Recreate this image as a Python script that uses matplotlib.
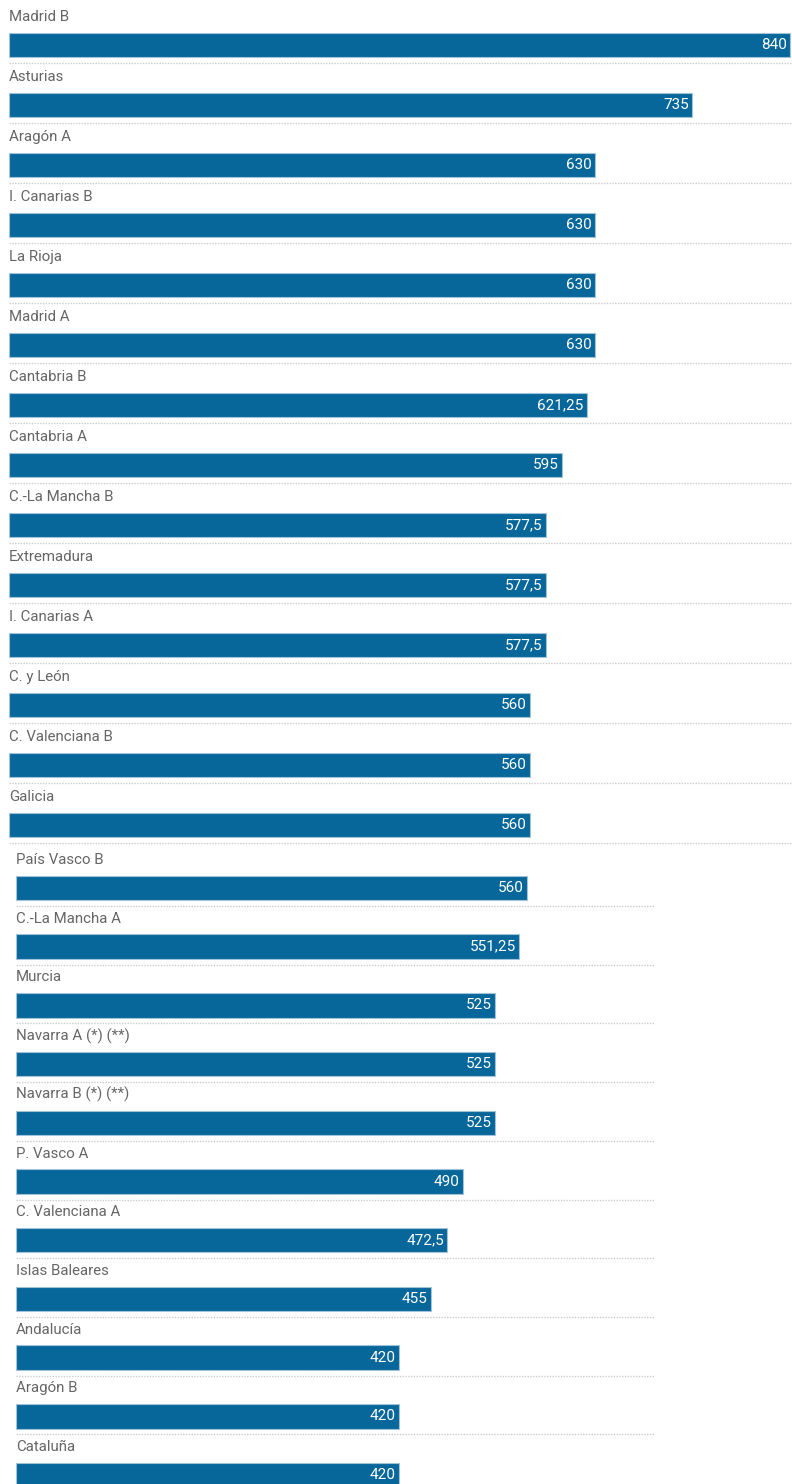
import matplotlib
matplotlib.use("Agg")
import matplotlib.pyplot as plt

# comunidades, two blocks as in the original graphic
top_names = ["Madrid B", "Asturias", "Aragón A", "I. Canarias B", "La Rioja",
             "Madrid A", "Cantabria B", "Cantabria A", "C.-La Mancha B",
             "Extremadura", "I. Canarias A", "C. y León", "C. Valenciana B",
             "Galicia"]
top_values = [840, 735, 630, 630, 630, 630, 621.25, 595, 577.5, 577.5, 577.5,
              560, 560, 560]

bottom_names = ["País Vasco B", "C.-La Mancha A", "Murcia", "Navarra A (*) (**)",
                "Navarra B (*) (**)", "P. Vasco A", "C. Valenciana A",
                "Islas Baleares", "Andalucía", "Aragón B", "Cataluña"]
bottom_values = [560, 551.25, 525, 525, 525, 490, 472.5, 455, 420, 420, 420]

W, H = 792, 1484
BAR = "#07679a"
EDGE = "#9fc3da"
TXT = "#666666"
GRID = "#cccccc"
FONT = ["Roboto", "DejaVu Sans"]


def fmt(v):
    s = ("%g" % v)
    return s.replace(".", ",")


def block(fig, names, values, x0, x1, xmax, yc0, pitch, ytop, ybot):
    # x0,x1 pixel span of axes; yc0 pixel centre of first bar
    r_top = (ytop - yc0) / pitch
    r_bot = (ybot - yc0) / pitch
    ax = fig.add_axes([x0 / W, 1 - ybot / H, (x1 - x0) / W, (ybot - ytop) / H])
    ax.set_xlim(0, xmax)
    ax.set_ylim(r_bot, r_top)
    ax.axis("off")
    bh = 24.5 / pitch
    ys = list(range(len(names)))
    ax.barh(ys, values, height=bh, color=BAR, edgecolor=EDGE, linewidth=0.8)
    for y, n, v in zip(ys, names, values):
        ax.text(0, y - 28 / pitch, n, ha="left", va="center", fontsize=10.8,
                color=TXT, family=FONT)
        ax.annotate(fmt(v), (v, y), xytext=(-2.5, 0), textcoords="offset points",
                    ha="right", va="center", fontsize=11, color="white",
                    family=FONT)
        ax.axhline(y + 18 / pitch, color=GRID, lw=1, ls=(0, (1, 1)))
    return ax


fig = plt.figure(figsize=(W / 100, H / 100), dpi=100)

# top block: 0 at x=9px, 840 at x=790px
block(fig, top_names, top_values, 9, 792, 840 * 783 / 781, 45, 60, 0, 852)
# bottom block: 0 at x=16px, 560 at x=527px, lines end at 655px
block(fig, bottom_names, bottom_values, 16, 655, 700, 888, 58.7, 852, H)

fig.savefig("out.png", dpi=100)
